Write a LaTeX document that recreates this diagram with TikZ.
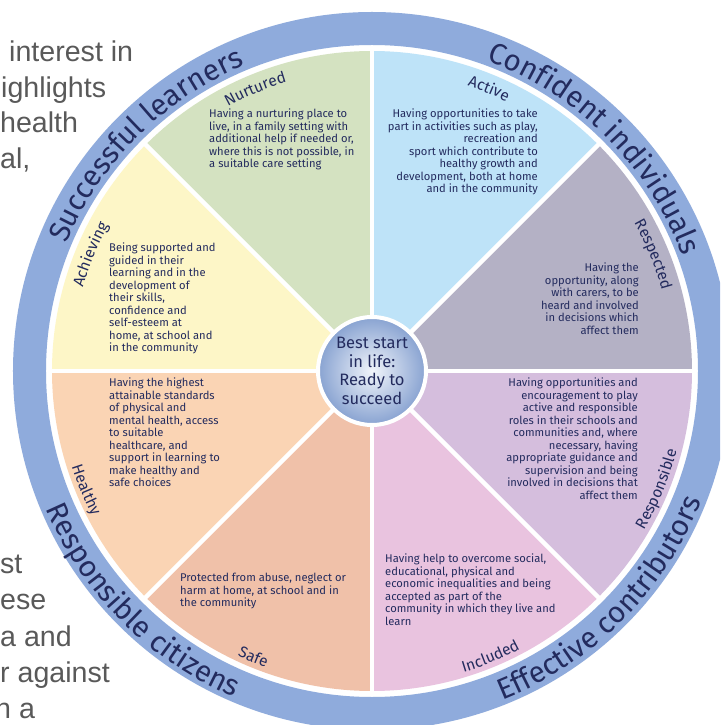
\documentclass[tikz,border=0pt]{standalone}
\usepackage{fontspec}
\setmainfont{Fira Sans}
\newfontfamily\pagefont{Liberation Sans}
\usetikzlibrary{decorations.text}
\definecolor{wgreen}{RGB}{212,226,193}
\definecolor{wblue}{RGB}{190,227,248}
\definecolor{wgrey}{RGB}{180,177,197}
\definecolor{wlilac}{RGB}{213,190,221}
\definecolor{wpink}{RGB}{233,195,223}
\definecolor{wsalmon}{RGB}{240,193,169}
\definecolor{wpeach}{RGB}{250,212,180}
\definecolor{wyellow}{RGB}{253,246,199}
\definecolor{wring}{RGB}{143,171,220}
\definecolor{wnavy}{RGB}{35,43,94}
\definecolor{pagegray}{RGB}{89,89,89}
\newcommand{\ringfont}{\fontsize{29.5}{29.5}\selectfont\color{wnavy}}
\newcommand{\tagfont}{\fontsize{15.5}{15.5}\selectfont\color{wnavy}}

\begin{document}
\begin{tikzpicture}[x=1pt,y=1pt,
  blurb/.style={text=wnavy,font=\fontsize{11.2}{12.5}\selectfont,inner sep=0pt},
  pagetext/.style={text=pagegray,font=\pagefont\fontsize{28.6}{28.6}\selectfont,inner sep=0pt,anchor=base west}]
\useasboundingbox (-372,-354) rectangle (348,371);
\clip (-372,-354) rectangle (348,371);
\fill[white] (-372,-354) rectangle (348,371);

% Page text behind the wheel
\node[pagetext] (p1) at (-363,309) {interest in};
\node[pagetext] (p2) at (-371,273.5) {ighlights};
\node[pagetext] (p3) at (-372,238) {health};
\node[pagetext] (p4) at (-372,202.5) {al,};
\node[pagetext] (p5) at (-372,-202) {st};
\node[pagetext] (p6) at (-372,-238.5) {ese};
\node[pagetext] (p7) at (-372,-275) {a and};
\node[pagetext] (p8) at (-372,-311) {r against};
\node[pagetext] (p9) at (-377,-347) {n a};

% Outer ring
\fill[wring,even odd rule] (0,0) circle[radius=359] (0,0) circle[radius=326];

% Wedges
\foreach \a/\col in {90/wgreen,45/wblue,0/wgrey,-45/wlilac,-90/wpink,-135/wsalmon,180/wpeach,135/wyellow} {
    \fill[\col] (0,0) -- (\a:320) arc[start angle=\a,delta angle=45,radius=320] -- cycle;
}
\foreach \a in {0,45,...,315} {
    \draw[white,line width=4.5pt] (0,0) -- (\a:322);
}

% Hub
\node[circle,minimum size=108pt,draw=white,line width=4pt,inner color=wring!12,outer color=wring!95!black,
  text=wnavy,align=center,font=\fontsize{16.5}{18.5}\selectfont] (hub) at (0,0) {Best start\\in life:\\Ready to\\succeed};

% Ring labels
\path[decorate,decoration={text along path,text align=center,text={|\ringfont|Successful learners}}]
  (180:331) arc[start angle=180,end angle=90,radius=331];
\path[decorate,decoration={text along path,text align=center,text={|\ringfont|Confident individuals}}]
  (90:331) arc[start angle=90,end angle=0,radius=331];
\path[decorate,decoration={text along path,text align=center,text={|\ringfont|Effective contributors}}]
  (-90:354) arc[start angle=-90,end angle=0,radius=354];
\path[decorate,decoration={text along path,text align=center,text={|\ringfont|Responsible citizens}}]
  (180:354) arc[start angle=180,end angle=270,radius=354];

% Wedge labels
\path[decorate,decoration={text along path,text align=center,text={|\tagfont|Nurtured}}]
  (135:301) arc[start angle=135,end angle=90,radius=301];
\path[decorate,decoration={text along path,text align=center,text={|\tagfont|Active}}]
  (90:301) arc[start angle=90,end angle=45,radius=301];
\path[decorate,decoration={text along path,text align=center,text={|\tagfont|Respected}}]
  (45:301) arc[start angle=45,end angle=0,radius=301];
\path[decorate,decoration={text along path,text align=center,text={|\tagfont|Achieving}}]
  (180:301) arc[start angle=180,end angle=135,radius=301];
\path[decorate,decoration={text along path,text align=center,text={|\tagfont|Responsible}}]
  (-45:315) arc[start angle=-45,end angle=0,radius=315];
\path[decorate,decoration={text along path,text align=center,text={|\tagfont|Included}}]
  (-90:315) arc[start angle=-90,end angle=-45,radius=315];
\path[decorate,decoration={text along path,text align=center,text={|\tagfont|Safe}}]
  (225:315) arc[start angle=225,end angle=270,radius=315];
\path[decorate,decoration={text along path,text align=center,text={|\tagfont|Healthy}}]
  (180:315) arc[start angle=180,end angle=225,radius=315];

% Wedge texts
\node[blurb,anchor=north west,align=left] (nurtured) at (-163,262) {Having a nurturing place to\\live, in a family setting with\\additional help if needed or,\\where this is not possible, in\\a suitable care setting};
\node[blurb,anchor=north east,align=right] (active) at (166,262) {Having opportunities to take\\part in activities such as play,\\recreation and\\sport which contribute to\\healthy growth and\\development, both at home\\and in the community};
\node[blurb,anchor=north east,align=right] (respected) at (267,108) {Having the\\opportunity, along\\with carers, to be\\heard and involved\\in decisions which\\affect them};
\node[blurb,anchor=north east,align=right] (responsible) at (266,-7) {Having opportunities and\\encouragement to play\\active and responsible\\roles in their schools and\\communities and, where\\necessary, having\\appropriate guidance and\\supervision and being\\involved in decisions that\\affect them};
\node[blurb,anchor=north west,align=left] (included) at (13,-183) {Having help to overcome social,\\educational, physical and\\economic inequalities and being\\accepted as part of the\\community in which they live and\\learn};
\node[blurb,anchor=north west,align=left] (safe) at (-192,-202) {Protected from abuse, neglect or\\harm at home, at school and in\\the community};
\node[blurb,anchor=north west,align=left] (healthy) at (-263,-7) {Having the highest\\attainable standards\\of physical and\\mental health, access\\to suitable\\healthcare, and\\support in learning to\\make healthy and\\safe choices};
\node[blurb,anchor=north west,align=left] (achieving) at (-263,128) {Being supported and\\guided in their\\learning and in the\\development of\\their skills,\\confidence and\\self-esteem at\\home, at school and\\in the community};
\end{tikzpicture}
\end{document}
